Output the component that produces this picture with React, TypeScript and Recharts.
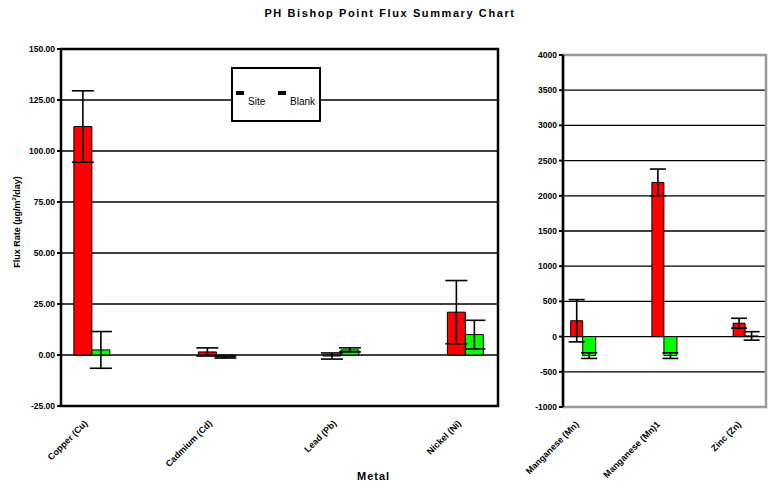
import { Bar, BarChart, CartesianGrid, ErrorBar, Legend, ReferenceArea, XAxis, YAxis } from 'recharts';

const traceMetals = ['Copper (Cu)', 'Cadmium (Cd)', 'Lead (Pb)', 'Nickel (Ni)'];
const traceSite = [112, 1.5, -0.5, 21];
const traceSiteErr = [17.5, 2, 1.5, 15.5];
const traceBlank = [2.5, -1, 2.5, 10];
const traceBlankErr = [9, 0.5, 1, 7];
const traceTicks = [-25, 0, 25, 50, 75, 100, 125, 150];

const majorMetals = ['Manganese (Mn)', 'Manganese (Mn)1', 'Zinc (Zn)'];
const majorSlots = [0, 2, 4];
const majorSite = [225, 2190, 190];
const majorSiteErr = [300, 190, 70];
const majorBlank = [-270, -270, 10];
const majorBlankErr = [40, 40, 60];
const majorTicks = [-1000, -500, 0, 500, 1000, 1500, 2000, 2500, 3000, 3500, 4000];

const traceData = traceMetals.map((name, i) => ({
	idx: i,
	name,
	site: traceSite[i],
	siteErr: traceSiteErr[i],
	blank: traceBlank[i],
	blankErr: traceBlankErr[i],
}));

const majorData = majorMetals.map((name, i) => ({
	idx: majorSlots[i],
	name,
	site: majorSite[i],
	siteErr: majorSiteErr[i],
	blank: majorBlank[i],
	blankErr: majorBlankErr[i],
}));

const font = 'Arial, "Liberation Sans", sans-serif';

const traceLabels: Record<number, string> = {};
traceData.forEach((d) => (traceLabels[d.idx] = d.name));
const majorLabels: Record<number, string> = {};
majorData.forEach((d) => (majorLabels[d.idx] = d.name));

// x tick labels run up-right at 45 degrees, ending just left of the slot
const slantTick = (labels: Record<number, string>) => (props: any) => {
	const { x, y, payload } = props;
	const tx = x - 4;
	const ty = y + 10;
	return (
		<text
			x={tx}
			y={ty}
			transform={`rotate(-45 ${tx} ${ty})`}
			textAnchor='end'
			fontSize={9}
			fontWeight={600}
			fontFamily={font}
			fill='#000'
		>
			{labels[payload.value] ?? ''}
		</text>
	);
};

const LegendBox = () => (
	<div
		style={{
			width: 86,
			height: 51,
			border: '2px solid #000',
			background: '#fff',
			fontFamily: font,
			fontSize: 10,
			position: 'relative',
		}}
	>
		<span style={{ position: 'absolute', left: 3, top: 22, width: 8, height: 4, background: '#000' }} />
		<span style={{ position: 'absolute', left: 15, top: 27 }}>Site</span>
		<span style={{ position: 'absolute', left: 45, top: 22, width: 8, height: 4, background: '#000' }} />
		<span style={{ position: 'absolute', left: 57, top: 27 }}>Blank</span>
	</div>
);

const tickStyle = { fontSize: 8.5, fontWeight: 700, fill: '#000', fontFamily: font };

export default function App() {
	return (
		<div style={{ position: 'absolute', left: 0, top: 0, width: 768, height: 489, background: '#fff', fontFamily: font }}>
			<div
				style={{
					position: 'absolute',
					top: 7,
					left: 0,
					width: 780,
					textAlign: 'center',
					fontSize: 11,
					fontWeight: 700,
					letterSpacing: 1.6,
				}}
			>
				PH Bishop Point Flux Summary Chart
			</div>
			<div
				style={{
					position: 'absolute',
					left: 16,
					top: 222,
					transform: 'translate(-50%, -50%) rotate(-90deg)',
					whiteSpace: 'nowrap',
					fontSize: 9,
					fontWeight: 600,
				}}
			>
				Flux Rate (µg/m<sup style={{ fontSize: 6 }}>2</sup>/day)
			</div>
			<div
				style={{
					position: 'absolute',
					left: 357,
					top: 470,
					fontSize: 11,
					fontWeight: 700,
					letterSpacing: 1,
				}}
			>
				Metal
			</div>

			<div style={{ position: 'absolute', left: 0, top: 0 }}>
				<BarChart
					width={520}
					height={489}
					data={traceData}
					margin={{ top: 49, right: 22, bottom: 23, left: 4 }}
					barGap={0}
				>
					<CartesianGrid vertical={false} stroke='#000' strokeWidth={1.3} />
					<XAxis
						type='number'
						dataKey='idx'
						domain={[-0.25, 3.26]}
						ticks={[0, 1, 2, 3]}
						height={60}
						axisLine={false}
						tickLine={false}
						tick={slantTick(traceLabels)}
						interval={0}
						allowDataOverflow
					/>
					<YAxis
						width={57}
						domain={[-25, 150]}
						ticks={traceTicks}
						tickFormatter={(v: number) => v.toFixed(2)}
						tick={tickStyle}
						tickSize={4}
						tickLine={{ stroke: '#000', strokeWidth: 2 }}
						axisLine={false}
						interval={0}
						allowDataOverflow
					/>
					<ReferenceArea
						x1={-0.25}
						x2={3.26}
						y1={-25}
						y2={150}
						fill='none'
						stroke='#000'
						strokeWidth={2.5}
						ifOverflow='visible'
					/>
					<Legend
						layout='horizontal'
						verticalAlign='middle'
						align='center'
						content={<LegendBox />}
						wrapperStyle={{ left: 231, top: 67, width: 90, height: 55 }}
					/>
					<Bar dataKey='site' name='Site' fill='#ff0000' stroke='#000' strokeWidth={1} barSize={18} isAnimationActive={false}>
						<ErrorBar dataKey='siteErr' direction='y' width={11} stroke='#000' strokeWidth={1.6} />
					</Bar>
					<Bar dataKey='blank' name='Blank' fill='#00ff00' stroke='#000' strokeWidth={1} barSize={18} isAnimationActive={false}>
						<ErrorBar dataKey='blankErr' direction='y' width={11} stroke='#000' strokeWidth={1.6} />
					</Bar>
				</BarChart>
			</div>

			<div style={{ position: 'absolute', left: 520, top: 0 }}>
				<BarChart
					width={248}
					height={489}
					data={majorData}
					margin={{ top: 55, right: 2, bottom: 22, left: 3 }}
					barGap={0}
				>
					<CartesianGrid vertical={false} stroke='#000' strokeWidth={1.3} />
					<XAxis
						type='number'
						dataKey='idx'
						domain={[-0.5, 4.5]}
						ticks={[0, 2, 4]}
						height={60}
						axisLine={false}
						tickLine={false}
						tick={slantTick(majorLabels)}
						interval={0}
						allowDataOverflow
					/>
					<ReferenceArea
						x1={-0.5}
						x2={4.5}
						y1={-1000}
						y2={4000}
						fill='none'
						stroke='#999'
						strokeWidth={2.5}
						ifOverflow='visible'
					/>
					<YAxis
						width={40}
						domain={[-1000, 4000]}
						ticks={majorTicks}
						tick={tickStyle}
						tickSize={4}
						tickLine={{ stroke: '#000', strokeWidth: 2 }}
						axisLine={{ stroke: '#000', strokeWidth: 2.5 }}
						interval={0}
						allowDataOverflow
					/>
					<Bar dataKey='site' fill='#ff0000' stroke='#000' strokeWidth={1} barSize={12} isAnimationActive={false}>
						<ErrorBar dataKey='siteErr' direction='y' width={8} stroke='#000' strokeWidth={1.6} />
					</Bar>
					<Bar dataKey='blank' fill='#00ff00' stroke='#000' strokeWidth={1} barSize={13} isAnimationActive={false}>
						<ErrorBar dataKey='blankErr' direction='y' width={8} stroke='#000' strokeWidth={1.6} />
					</Bar>
				</BarChart>
			</div>
		</div>
	);
}
